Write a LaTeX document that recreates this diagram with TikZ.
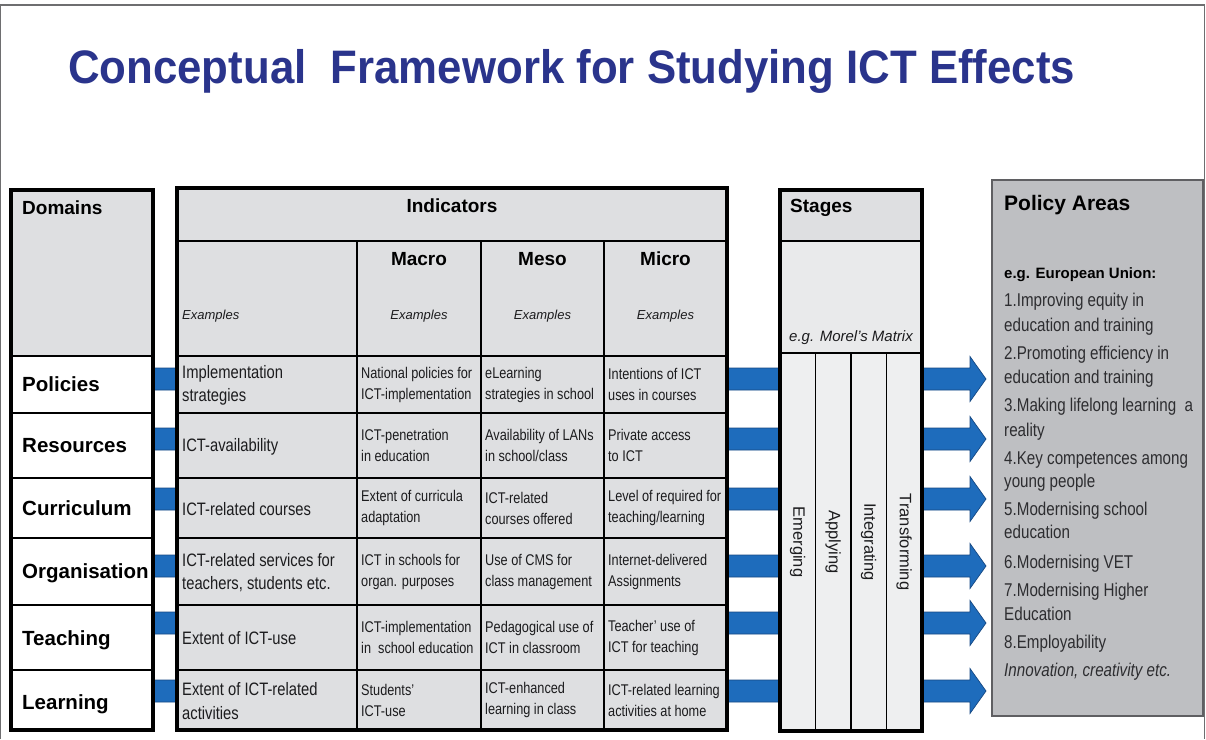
\documentclass[tikz,border=0pt]{standalone}
\usepackage{fontspec}
\setmainfont{Liberation Sans}
\newfontfamily\narrowfont[FakeStretch=0.82]{Liberation Sans}
\usetikzlibrary{calc,backgrounds}
\definecolor{titleblue}{RGB}{42,52,140}
\definecolor{cellgray}{RGB}{222,223,225}
\definecolor{morelgray}{RGB}{233,234,235}
\definecolor{stagegray}{RGB}{238,239,240}
\definecolor{policygray}{RGB}{190,191,194}
\definecolor{policyedge}{RGB}{95,95,98}
\definecolor{policytext}{RGB}{45,45,48}
\definecolor{barblue}{RGB}{30,108,188}
\definecolor{baredge}{RGB}{22,72,130}
\definecolor{textdark}{RGB}{28,28,30}
\definecolor{framegray}{RGB}{110,110,112}
\tikzset{
  cellbox/.style={draw=black, line width=1.6pt, fill=cellgray, anchor=north west, outer sep=0pt, inner sep=0pt},
  firsttext/.style={anchor=west, inner sep=0pt, align=left, text=textdark, font=\narrowfont\fontsize{18}{23.5}\selectfont},
  leveltext/.style={anchor=west, inner sep=0pt, align=left, text=textdark, font=\narrowfont\fontsize{15.5}{21}\selectfont},
  domrow/.style={draw=black, line width=1.6pt, fill=white, anchor=north west, outer sep=0pt, inner sep=0pt, minimum width=142pt},
  hdr/.style={font=\bfseries\fontsize{19}{22}\selectfont, text=black, inner sep=0pt},
  domlabel/.style={font=\bfseries\fontsize{20.5}{24}\selectfont, anchor=base west, inner sep=0pt, text=black},
  exlabel/.style={font=\itshape\fontsize{13}{15}\selectfont, text=textdark, inner sep=0pt},
  stagecol/.style={draw=black, line width=1.6pt, fill=stagegray, anchor=north west, outer sep=0pt, inner sep=0pt, minimum width=35.5pt, minimum height=378pt},
  stagelabel/.style={rotate=-90, font=\fontsize{16.5}{19}\selectfont, text=textdark, inner sep=0pt},
  policyitem/.style={anchor=base west, inner sep=0pt, font=\narrowfont\fontsize{18.5}{22}\selectfont, text=policytext},
  outerframe/.style={line width=3.2pt, draw=black},
  flowarrow/.style={fill=barblue, draw=baredge, line width=0.7pt, line join=miter},
}
\newcommand\indrow[7]{%
  \node[cellbox, minimum width=180pt, minimum height=#3] (c#1a) at (177,#2) {};
  \node[cellbox, minimum width=124pt, minimum height=#3] (c#1b) at (357,#2) {};
  \node[cellbox, minimum width=123pt, minimum height=#3] (c#1c) at (481,#2) {};
  \node[cellbox, minimum width=123pt, minimum height=#3] (c#1d) at (604,#2) {};
  \node[firsttext] (c#1at) at ([xshift=5pt,yshift=-1pt]c#1a.west) {#4};
  \node[leveltext] (c#1bt) at ([xshift=4pt]c#1b.west) {#5};
  \node[leveltext] (c#1ct) at ([xshift=4pt]c#1c.west) {#6};
  \node[leveltext] (c#1dt) at ([xshift=4pt]c#1d.west) {#7};
}
\begin{document}
\begin{tikzpicture}[x=1pt,y=-1pt]
\useasboundingbox (0,0) rectangle (1206,739);
% slide frame
\draw[framegray, line width=1.2pt] (0.8,739) |- (1204.5,5) -- (1204.5,739);
% title
\node[anchor=base west, inner sep=0pt, text=titleblue, font=\bfseries\fontsize{47}{52}\selectfont] (title) at (68,83)
  {\resizebox{1007pt}{\height}{Conceptual\ \ Framework for Studying ICT Effects}};

% ---------- Domains ----------
\node[domrow, fill=cellgray, minimum height=166pt] (dh) at (11,190) {};
\node[hdr, anchor=west] (dht) at (22,208) {Domains};
\node[domrow, minimum height=57pt] (d1) at (11,356) {};
\node[domrow, minimum height=65pt] (d2) at (11,413) {};
\node[domrow, minimum height=60pt] (d3) at (11,478) {};
\node[domrow, minimum height=67pt] (d4) at (11,538) {};
\node[domrow, minimum height=65pt] (d5) at (11,605) {};
\node[domrow, minimum height=60pt] (d6) at (11,670) {};
\node[domlabel] (dl1) at (22,391.5) {Policies};
\node[domlabel] (dl2) at (22,452.5) {Resources};
\node[domlabel] (dl3) at (22,515.5) {Curriculum};
\node[domlabel] (dl4) at (22,578.5) {Organisation};
\node[domlabel] (dl5) at (22,645.5) {Teaching};
\node[domlabel] (dl6) at (22,709) {Learning};
\draw[outerframe] (dh.north west) rectangle (d6.south east);

% ---------- Indicators ----------
\node[cellbox, minimum width=550pt, minimum height=53pt] (ih) at (177,188) {};
\node[hdr] (iht) at (452,206) {Indicators};
\node[cellbox, minimum width=180pt, minimum height=115pt] (sh0) at (177,241) {};
\node[cellbox, minimum width=124pt, minimum height=115pt] (sh1) at (357,241) {};
\node[cellbox, minimum width=123pt, minimum height=115pt] (sh2) at (481,241) {};
\node[cellbox, minimum width=123pt, minimum height=115pt] (sh3) at (604,241) {};
\node[exlabel, anchor=west] (ex0) at (182,316) {Examples};
\node[hdr] (mac) at (419,259) {Macro};
\node[hdr] (mes) at (542.5,259) {Meso};
\node[hdr] (mic) at (665.5,259) {Micro};
\node[exlabel] (ex1) at (419,316) {Examples};
\node[exlabel] (ex2) at (542.5,316) {Examples};
\node[exlabel] (ex3) at (665.5,316) {Examples};

\indrow{1}{356}{57pt}{Implementation\\strategies}{National policies for\\ICT-implementation}{eLearning\\strategies in school}{Intentions of ICT\\uses in courses}
\indrow{2}{413}{65pt}{ICT-availability}{ICT-penetration\\in education}{Availability of LANs\\in school/class}{Private access\\to ICT}
\indrow{3}{478}{60pt}{ICT-related courses}{Extent of curricula\\adaptation}{ICT-related\\courses offered}{Level of required for\\teaching/learning}
\indrow{4}{538}{67pt}{ICT-related services for\\teachers, students etc.}{ICT in schools for\\organ. purposes}{Use of CMS for\\class management}{Internet-delivered\\Assignments}
\indrow{5}{605}{65pt}{Extent of ICT-use}{ICT-implementation\\in\ \ school education}{Pedagogical use of\\ICT in classroom}{Teacher’ use of\\ICT for teaching}
\indrow{6}{670}{60pt}{Extent of ICT-related\\activities}{Students’\\ICT-use}{ICT-enhanced\\learning in class}{ICT-related learning\\activities at home}
\draw[outerframe] (ih.north west) rectangle (c6d.south east);

% ---------- Stages ----------
\node[cellbox, minimum width=142pt, minimum height=51pt] (sth) at (780,190) {};
\node[hdr, anchor=west] (stt) at (790,208) {Stages};
\node[cellbox, fill=morelgray, minimum width=142pt, minimum height=112pt] (stm) at (780,241) {};
\node[font=\itshape\fontsize{15}{18}\selectfont, text=textdark, inner sep=0pt] (stmt) at (851,338) {e.g. Morel’s Matrix};
\node[stagecol] (s1) at (780,353) {};
\node[stagecol] (s2) at (815.5,353) {};
\node[stagecol] (s3) at (851,353) {};
\node[stagecol] (s4) at (886.5,353) {};
\node[stagelabel] (sl1) at (s1.center) {Emerging};
\node[stagelabel] (sl2) at (s2.center) {Applying};
\node[stagelabel] (sl3) at (s3.center) {Integrating};
\node[stagelabel] (sl4) at (s4.center) {Transforming};
\draw[outerframe] (sth.north west) rectangle (s4.south east);

% ---------- Policy areas ----------
\node[draw=policyedge, line width=1.4pt, fill=policygray, anchor=north west, outer sep=0pt, inner sep=0pt,
      minimum width=211pt, minimum height=536pt] (pa) at (992,180) {};
\node[anchor=base west, inner sep=0pt, font=\bfseries\fontsize{21}{24}\selectfont, text=black] (pat) at (1004,210.5) {Policy Areas};
\node[anchor=base west, inner sep=0pt, font=\bfseries\fontsize{15}{18}\selectfont, text=black] (pae) at (1004,278.5) {e.g. European Union:};
\node[policyitem] (p1) at (1004,306.6) {1.Improving equity in};
\node[policyitem] (p2) at (1004,331.6) {education and training};
\node[policyitem] (p3) at (1004,359.6) {2.Promoting efficiency in};
\node[policyitem] (p4) at (1004,383.6) {education and training};
\node[policyitem] (p5) at (1004,411.6) {3.Making lifelong learning\ \ a};
\node[policyitem] (p6) at (1004,436.6) {reality};
\node[policyitem] (p7) at (1004,464.6) {4.Key competences among};
\node[policyitem] (p8) at (1004,487.6) {young people};
\node[policyitem] (p9) at (1004,515.6) {5.Modernising school};
\node[policyitem] (p10) at (1004,538.6) {education};
\node[policyitem] (p11) at (1004,568.6) {6.Modernising VET};
\node[policyitem] (p12) at (1004,596.6) {7.Modernising Higher};
\node[policyitem] (p13) at (1004,620.6) {Education};
\node[policyitem] (p14) at (1004,648.6) {8.Employability};
\node[policyitem, font=\narrowfont\itshape\fontsize{18.5}{22}\selectfont] (p15) at (1004,676.6) {Innovation, creativity etc.};

% ---------- flow arrows (behind the tables) ----------
\begin{scope}[on background layer]
\foreach \n/\yy in {1/379,2/439,3/499,4/566,5/623,6/691}{
  \coordinate (t\n) at (986,\yy);
  \filldraw[flowarrow] ($(d\n.east|-t\n)+(0,-11)$) -- ($(t\n)+(-16,-11)$) -- ($(t\n)+(-16,-22.5)$)
     -- (t\n) -- ($(t\n)+(-16,22.5)$) -- ($(t\n)+(-16,11)$) -- ($(d\n.east|-t\n)+(0,11)$) -- cycle;
}
\end{scope}
\end{tikzpicture}
\end{document}
